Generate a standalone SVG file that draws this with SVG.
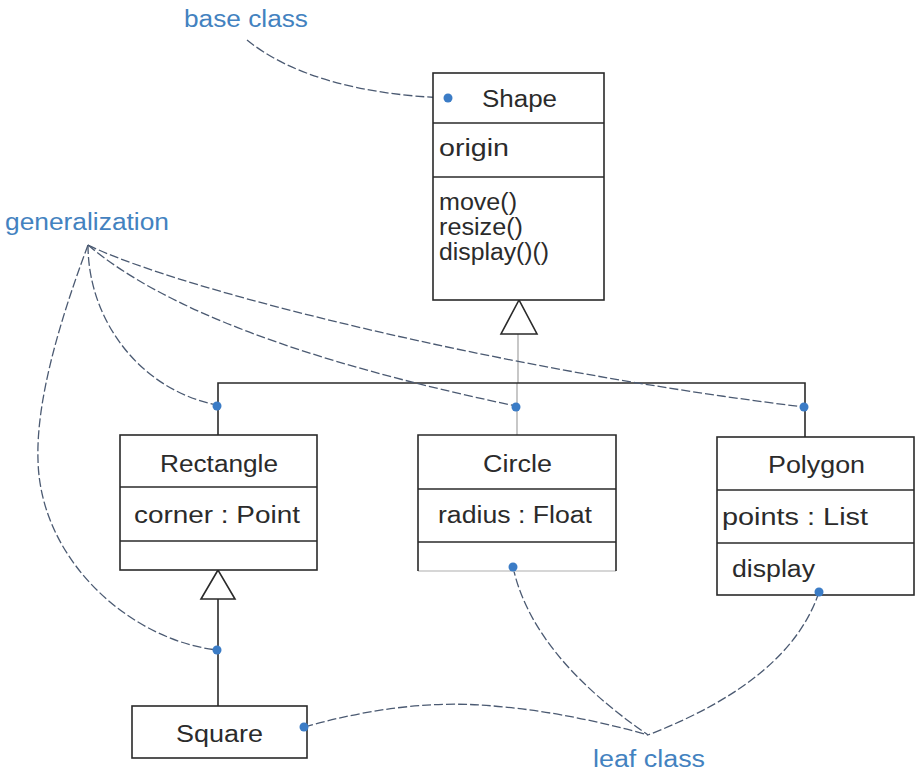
<svg xmlns="http://www.w3.org/2000/svg" width="917" height="775" viewBox="0 0 917 775">
<style>
.box{fill:#fff;stroke:#2a2a2a;stroke-width:1.6}
.div{stroke:#2a2a2a;stroke-width:1.6}
.t{font-family:"Liberation Sans",Arial,sans-serif;font-size:23px;fill:#2b2b2b}
.lbl{font-family:"Liberation Sans",Arial,sans-serif;font-size:23px;fill:#4382c0}
.ln{fill:none;stroke:#2a2a2a;stroke-width:1.6}
.faint{fill:none;stroke:#b0b0b0;stroke-width:1.4}
.note{fill:none;stroke:#4b5a72;stroke-width:1.3;stroke-dasharray:9 3}
.dot{fill:#3b7cc6}
.tri{fill:#fff;stroke:#2a2a2a;stroke-width:1.6}
</style>
<rect width="917" height="775" fill="#fff"/>

<g id="connectors">
  <line class="faint" x1="518" y1="334" x2="518" y2="383"/>
  <line class="faint" x1="517" y1="383" x2="517" y2="435"/>
  <path class="ln" d="M218,435 V383 H805 V437"/>
  <polygon class="tri" points="519,300 501,334 537,334"/>
  <line class="ln" x1="218" y1="599" x2="218" y2="706"/>
  <polygon class="tri" points="218,570 201,599 235,599"/>
</g>

<g id="notes">
  <path class="note" d="M247,40 C290,75 360,95 448,98"/>
  <path class="note" d="M88,245 C88,320 140,390 217,405"/>
  <path class="note" d="M88,245 Q200,340 516,406"/>
  <path class="note" d="M88,245 C180,290 500,370 804,407"/>
  <path class="note" d="M88,245 C60,320 36,400 38,460 C40,560 130,640 217,650"/>
  <path class="note" d="M304,727 Q400,700 480,705 T648,735"/>
  <path class="note" d="M513,567 Q532,655 648,735"/>
  <path class="note" d="M819,592 Q790,680 648,735"/>
  <circle class="dot" cx="217" cy="406" r="4.5"/>
  <circle class="dot" cx="516" cy="407" r="4.5"/>
  <circle class="dot" cx="804" cy="407" r="4.5"/>
  <circle class="dot" cx="217" cy="650" r="4.5"/>
</g>

<g id="label-base-class"><text class="lbl" x="184" y="27" textLength="124" lengthAdjust="spacingAndGlyphs">base class</text></g>
<g id="label-generalization"><text class="lbl" x="5" y="230" textLength="164" lengthAdjust="spacingAndGlyphs">generalization</text></g>
<g id="label-leaf-class"><text class="lbl" x="593" y="767" textLength="112" lengthAdjust="spacingAndGlyphs">leaf class</text></g>

<g id="Shape">
  <rect class="box" x="433" y="73" width="171" height="227"/>
  <line class="div" x1="433" y1="123" x2="604" y2="123"/>
  <line class="div" x1="433" y1="177" x2="604" y2="177"/>
  <text class="t" x="482" y="107" textLength="75" lengthAdjust="spacingAndGlyphs">Shape</text>
  <text class="t" x="439" y="156" textLength="70" lengthAdjust="spacingAndGlyphs">origin</text>
  <text class="t" x="439" y="210" textLength="78" lengthAdjust="spacingAndGlyphs">move()</text>
  <text class="t" x="439" y="235" textLength="84" lengthAdjust="spacingAndGlyphs">resize()</text>
  <text class="t" x="439" y="260" textLength="110" lengthAdjust="spacingAndGlyphs">display()()</text>
</g>

<g id="Rectangle">
  <rect class="box" x="120" y="435" width="197" height="135"/>
  <line class="div" x1="120" y1="487" x2="317" y2="487"/>
  <line class="div" x1="120" y1="541" x2="317" y2="541"/>
  <text class="t" x="160" y="472" textLength="118" lengthAdjust="spacingAndGlyphs">Rectangle</text>
  <text class="t" x="134" y="523" textLength="166" lengthAdjust="spacingAndGlyphs">corner : Point</text>
</g>

<g id="Circle">
  <rect x="418" y="435" width="198" height="136" fill="#fff"/>
  <line x1="418" y1="571" x2="616" y2="571" stroke="#c8c8c8" stroke-width="1.4"/>
  <path class="ln" d="M418,571 V435 H616 V571"/>
  <line class="div" x1="418" y1="489" x2="616" y2="489"/>
  <line class="div" x1="418" y1="542" x2="616" y2="542"/>
  <text class="t" x="483" y="472" textLength="69" lengthAdjust="spacingAndGlyphs">Circle</text>
  <text class="t" x="438" y="523" textLength="154" lengthAdjust="spacingAndGlyphs">radius : Float</text>
</g>

<g id="Polygon">
  <rect class="box" x="717" y="437" width="197" height="158"/>
  <line class="div" x1="717" y1="490" x2="914" y2="490"/>
  <line class="div" x1="717" y1="543" x2="914" y2="543"/>
  <text class="t" x="768" y="473" textLength="97" lengthAdjust="spacingAndGlyphs">Polygon</text>
  <text class="t" x="722" y="525" textLength="146" lengthAdjust="spacingAndGlyphs">points : List</text>
  <text class="t" x="732" y="577" textLength="83" lengthAdjust="spacingAndGlyphs">display</text>
</g>

<g id="Square">
  <rect class="box" x="132" y="706" width="175" height="52"/>
  <text class="t" x="176" y="742" textLength="87" lengthAdjust="spacingAndGlyphs">Square</text>
</g>
<g id="end-dots">
  <circle class="dot" cx="448" cy="98" r="4.5"/>
  <circle class="dot" cx="304" cy="727" r="4.5"/>
  <circle class="dot" cx="513" cy="567" r="4.5"/>
  <circle class="dot" cx="819" cy="592" r="4.5"/>
</g>
</svg>
